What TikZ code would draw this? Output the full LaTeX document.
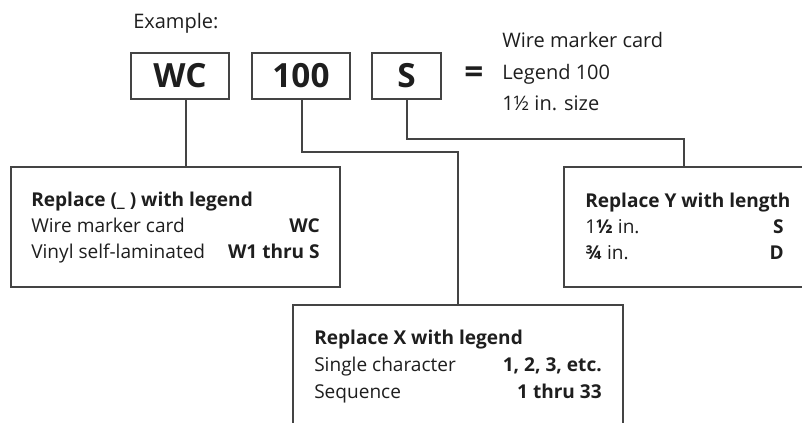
\documentclass[tikz,border=0pt]{standalone}
\usepackage{fontspec}
\setmainfont{Open Sans}
\usetikzlibrary{calc}
\definecolor{ink}{HTML}{1E1E1E}
\definecolor{rule}{HTML}{444444}
\tikzset{
  codebox/.style={draw=rule, line width=0.9pt, minimum height=34.5pt, inner sep=0pt, font=\fontsize{25}{30}\selectfont\bfseries, text=ink},
  legbox/.style={draw=rule, line width=0.9pt, inner sep=0pt},
  conn/.style={draw=rule, line width=0.9pt},
  txt/.style={anchor=base west, inner sep=0pt, font=\fontsize{14.3}{17}\selectfont, text=ink},
  txtb/.style={txt, font=\fontsize{14.3}{17}\selectfont\bfseries},
  txtr/.style={anchor=base east, inner sep=0pt, font=\fontsize{14.3}{17}\selectfont\bfseries, text=ink},
  big/.style={anchor=base west, inner sep=0pt, font=\fontsize{15}{18}\selectfont, text=ink},
}
\begin{document}
\begin{tikzpicture}[x=0.75pt,y=-0.75pt]
\useasboundingbox (0,0) rectangle (802,423);
\clip (0,0) rectangle (802,423);
% code boxes
\node[codebox, minimum width=73.5pt] (wc) at (180,76) {WC};
\node[codebox, minimum width=73.5pt] (n100) at (301,76) {100};
\node[codebox, minimum width=51.75pt] (s) at (406.5,76) {S};
\node[inner sep=0pt, font=\fontsize{25}{30}\selectfont\bfseries, text=ink] (eq) at (474,75) {=};
\node[big] (ex) at (133,29) {Example:};
\node[big] (r1) at (502,48) {Wire marker card};
\node[big] (r2) at (502,80) {Legend 100};
\node[big] (r3) at (502,111) {1½ in. size};
% legend boxes
\node[legbox, minimum width=246.75pt, minimum height=90pt] (legL) at (175.5,227) {};
\node[legbox, minimum width=187.5pt, minimum height=90pt] (legR) at (689,227) {};
\node[legbox, minimum width=247.5pt, minimum height=97.5pt] (legM) at (458,370) {};
% left box text
\node[txtb] (lt1) at (31,207) {Replace (\_ ) with legend};
\node[txt] (lt2) at (31,233) {Wire marker card};
\node[txt] (lt3) at (31,259) {Vinyl self-laminated};
\node[txtr] (lv2) at (320,233) {WC};
\node[txtr] (lv3) at (320,259) {W1 thru S};
% right box text
\node[txtb] (rt1) at (585,208) {Replace Y with length};
\node[txt] (rt2) at (585,234) {1\textbf{½} in.};
\node[txt] (rt3) at (585,260) {\textbf{¾} in.};
\node[txtr] (rv2) at (784,234) {S};
\node[txtr] (rv3) at (784,260) {D};
% middle box text
\node[txtb] (mt1) at (314,345) {Replace X with legend};
\node[txt] (mt2) at (314,372) {Single character};
\node[txt] (mt3) at (314,398) {Sequence};
\node[txtr] (mv2) at (602,372) {1, 2, 3, etc.};
\node[txtr] (mv3) at (602,398) {1 thru 33};
% connectors
\coordinate (a1) at ($(wc.south)+(6,0)$);
\draw[conn] (a1) -- (a1 |- legL.north);
\coordinate (b1) at ($(n100.south)+(1,0)$);
\coordinate (b2) at (458,152);
\draw[conn] (b1) -- (b1 |- b2) -- (b2) -- (b2 |- legM.north);
\coordinate (c1) at ($(s.south)+(0.5,0)$);
\coordinate (c2) at (684,139);
\draw[conn] (c1) -- (c1 |- c2) -- (c2) -- (c2 |- legR.north);
\end{tikzpicture}
\end{document}
